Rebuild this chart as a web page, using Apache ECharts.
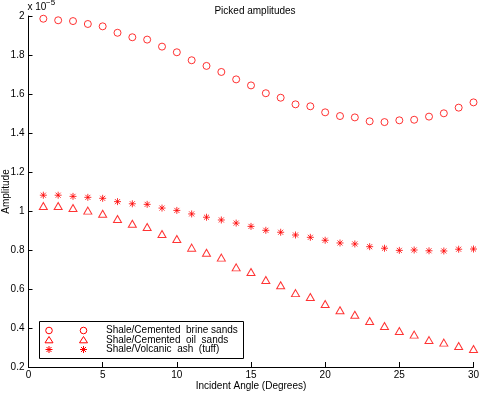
<!DOCTYPE html>
<html>
<head>
<meta charset="utf-8">
<script src="https://cdn.jsdelivr.net/npm/echarts@6/dist/echarts.min.js"></script>
<style>
html,body{margin:0;padding:0;background:#fff;}
#chart{width:479px;height:394px;}
</style>
</head>
<body>
<div id="chart"></div>
<script>
// Values in units of 1e-5
var angles = [1,2,3,4,5,6,7,8,9,10,11,12,13,14,15,16,17,18,19,20,21,22,23,24,25,26,27,28,29,30];
var brineSands = [1.986,1.978,1.974,1.959,1.947,1.914,1.891,1.879,1.843,1.814,1.773,1.744,1.713,1.675,1.644,1.604,1.581,1.547,1.537,1.506,1.487,1.480,1.460,1.456,1.465,1.468,1.484,1.501,1.530,1.557];
var oilSands = [1.026,1.026,1.015,1.002,0.986,0.959,0.935,0.918,0.882,0.856,0.812,0.786,0.761,0.711,0.687,0.646,0.619,0.579,0.559,0.523,0.491,0.468,0.436,0.410,0.385,0.366,0.338,0.325,0.308,0.292];
var volcanicAsh = [1.081,1.081,1.075,1.070,1.065,1.048,1.037,1.034,1.015,1.003,0.985,0.968,0.954,0.938,0.921,0.901,0.891,0.877,0.865,0.850,0.836,0.831,0.817,0.809,0.798,0.800,0.796,0.795,0.804,0.805];
var seriesNames = ['Shale/Cemented  brine sands','Shale/Cemented  oil  sands','Shale/Volcanic  ash  (tuff)'];
var xTicks = [0,5,10,15,20,25,30];
var yTicks = [0.2,0.4,0.6,0.8,1,1.2,1.4,1.6,1.8,2];

function pairs(ys){ return angles.map(function(a,i){ return [a, ys[i]]; }); }

var RED = '#ff0000';
var FONT = 'Liberation Sans, Arial, Helvetica, sans-serif';
var starPath = 'path://M0,-5L0,5M-5,0L5,0M-3.6,-3.6L3.6,3.6M-3.6,3.6L3.6,-3.6';
var hollow = {color:'rgba(0,0,0,0)', borderColor:RED, borderWidth:1};

function asterisk(cx, cy){
  var r = 3.5, d = 2.5;
  var segs = [[0,-r,0,r],[-r,0,r,0],[-d,-d,d,d],[-d,d,d,-d]];
  return segs.map(function(s){
    return {type:'line', shape:{x1:cx+s[0],y1:cy+s[1],x2:cx+s[2],y2:cy+s[3]}, style:{stroke:RED, lineWidth:1}};
  });
}

var chart = echarts.init(document.getElementById('chart'), null, {renderer:'canvas'});
var legendRows = [330.5, 340, 349.5];
var graphics = [
  {type:'rect', shape:{x:39.5, y:321.5, width:204, height:37}, style:{fill:'#fff', stroke:'#000', lineWidth:1}, z:10},
  {type:'circle', shape:{cx:49, cy:legendRows[0], r:3.3}, style:{fill:'none', stroke:RED, lineWidth:1}, z:11},
  {type:'circle', shape:{cx:83.5, cy:legendRows[0], r:3.3}, style:{fill:'none', stroke:RED, lineWidth:1}, z:11},
  {type:'polygon', shape:{points:[[49,legendRows[1]-3.5],[53,legendRows[1]+2.8],[45,legendRows[1]+2.8]]}, style:{fill:'none', stroke:RED, lineWidth:1}, z:11},
  {type:'polygon', shape:{points:[[83.5,legendRows[1]-3.5],[87.5,legendRows[1]+2.8],[79.5,legendRows[1]+2.8]]}, style:{fill:'none', stroke:RED, lineWidth:1}, z:11}
];
asterisk(49, legendRows[2]).concat(asterisk(83.5, legendRows[2])).forEach(function(g){ g.z = 11; graphics.push(g); });
seriesNames.forEach(function(n,i){
  graphics.push({type:'text', x:106, y:legendRows[i], z:11, style:{text:n, font:'10px '+FONT, fill:'#000', textVerticalAlign:'middle', verticalAlign:'middle'}});
});
graphics.push({type:'text', x:27.5, y:2, style:{text:'x 10', font:'10px '+FONT, fill:'#000', verticalAlign:'top'}});
graphics.push({type:'text', x:46, y:-1.5, style:{text:'−5', font:'8px '+FONT, fill:'#000', verticalAlign:'top'}});

chart.setOption({
  animation:false,
  backgroundColor:'#fff',
  title:{text:'Picked amplitudes', left:250, top:1, textAlign:'center',
    textStyle:{fontSize:10, fontWeight:'normal', color:'#000', fontFamily:FONT}},
  grid:{left:28.5, right:5.5, top:16, bottom:27, containLabel:false, outerBoundsMode:'none'},
  xAxis:{type:'value', min:0, max:30, interval:5,
    name:'Incident Angle (Degrees)', nameLocation:'middle', nameGap:14, nameMoveOverlap:false,
    nameTextStyle:{fontSize:10, color:'#000', fontFamily:FONT},
    axisLine:{show:true, lineStyle:{color:'#000', width:1}},
    axisTick:{show:true, inside:true, length:5, lineStyle:{color:'#000'}},
    axisLabel:{color:'#000', fontSize:10, fontFamily:FONT, margin:3,
      formatter:function(v){ return xTicks.indexOf(v)>=0 ? String(v) : ''; }},
    splitLine:{show:false}},
  yAxis:{type:'value', min:0.2, max:2, interval:0.2,
    name:'Amplitude', nameLocation:'middle', nameGap:17, nameRotate:90, nameMoveOverlap:false,
    nameTextStyle:{fontSize:10, color:'#000', fontFamily:FONT},
    axisLine:{show:true, lineStyle:{color:'#000', width:1}},
    axisTick:{show:true, inside:true, length:4, lineStyle:{color:'#000'}},
    axisLabel:{color:'#000', fontSize:10, fontFamily:FONT, margin:4,
      formatter:function(v){ var r = Math.round(v*10)/10; return yTicks.indexOf(r)>=0 ? String(r) : ''; }},
    splitLine:{show:false}},
  series:[
    {name:seriesNames[0], type:'scatter', data:pairs(brineSands), symbol:'circle', symbolSize:7, itemStyle:hollow},
    {name:seriesNames[1], type:'scatter', data:pairs(oilSands), symbol:'triangle', symbolSize:[8,7], itemStyle:hollow},
    {name:seriesNames[2], type:'scatter', data:pairs(volcanicAsh), symbol:starPath, symbolSize:7, itemStyle:hollow}
  ],
  graphic:graphics
});
</script>
</body>
</html>
